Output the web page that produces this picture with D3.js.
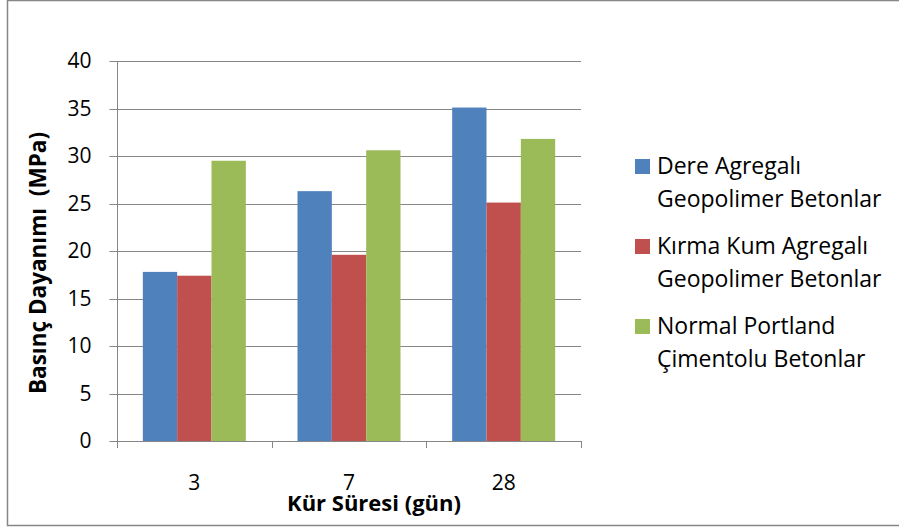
<!DOCTYPE html>
<html>
<head>
<meta charset="utf-8">
<script src="https://cdn.jsdelivr.net/npm/d3@7"></script>
<style>
  html, body { margin: 0; padding: 0; background: #fff; }
  svg { display: block; }
  text { font-family: "Open Sans", sans-serif; fill: #000; }
</style>
</head>
<body>
<svg id="chart" width="899" height="528"></svg>
<script>
const categories = ["3", "7", "28"];
const seriesNames = [
  ["Dere Agregalı", "Geopolimer Betonlar"],
  ["Kırma Kum Agregalı", "Geopolimer Betonlar"],
  ["Normal Portland", "Çimentolu Betonlar"]
];
const dereValues = [17.8, 26.3, 35.1];
const kirmaValues = [17.4, 19.6, 25.1];
const portlandValues = [29.5, 30.6, 31.8];
const yTicks = [0, 5, 10, 15, 20, 25, 30, 35, 40];
const seriesColors = ["#4F81BD", "#C0504D", "#9BBB59"];
const yTitle = "Basınç Dayanımı  (MPa)";
const xTitle = "Kür Süresi (gün)";

const seriesValues = [dereValues, kirmaValues, portlandValues];
const svg = d3.select("#chart");

// outer chart border
svg.append("rect")
  .attr("x", 7.5).attr("y", 0.5)
  .attr("width", 899).attr("height", 525)
  .attr("fill", "#fff").attr("stroke", "#868686").attr("stroke-width", 1.5);

const pLeft = 117, pRight = 581, pTop = 61, pBottom = 441;
const y = d3.scaleLinear().domain([0, 40]).range([pBottom, pTop]);
const x = d3.scaleBand().domain(categories).range([pLeft, pRight])
  .paddingInner(0.334).paddingOuter(0.167);
const xs = d3.scaleBand().domain(d3.range(seriesValues.length)).range([0, x.bandwidth()]).padding(0);

// gridlines
svg.append("g").selectAll("line").data(yTicks.filter(d => d > 0)).join("line")
  .attr("x1", pLeft).attr("x2", pRight)
  .attr("y1", d => Math.round(y(d)) + 0.5).attr("y2", d => Math.round(y(d)) + 0.5)
  .attr("stroke", "#868686").attr("stroke-width", 1);

// bars
const groups = svg.append("g").selectAll("g").data(categories).join("g")
  .attr("transform", c => `translate(${x(c)},0)`);
groups.selectAll("rect").data((c, i) => seriesValues.map((vals, s) => ({ s, v: vals[i] }))).join("rect")
  .attr("x", d => xs(d.s)).attr("width", xs.bandwidth())
  .attr("y", d => y(d.v)).attr("height", d => y(0) - y(d.v))
  .attr("fill", d => seriesColors[d.s]);

// y axis
const yAxis = svg.append("g").attr("transform", `translate(${pLeft + 0.5},0)`)
  .call(d3.axisLeft(y).tickValues(yTicks).tickSize(8).tickPadding(18));
yAxis.select(".domain").attr("stroke", "#868686").attr("d", `M0,${y(40)}V${y(0)}`);
yAxis.selectAll(".tick line").attr("stroke", "#868686");
yAxis.selectAll(".tick text").attr("font-size", 21).attr("font-family", "Open Sans").attr("fill", "#000");
yAxis.selectAll(".tick").attr("transform", d => `translate(0,${Math.round(y(d)) + 0.5})`);

// x axis line
const step = x.step();
const bounds = d3.range(categories.length + 1).map(i => x.range()[0] + i * step);
svg.append("line").attr("x1", pLeft).attr("x2", pRight)
  .attr("y1", pBottom + 0.5).attr("y2", pBottom + 0.5)
  .attr("stroke", "#868686").attr("stroke-width", 1);
svg.append("g").selectAll("line").data(bounds).join("line")
  .attr("x1", d => Math.round(d) + 0.5).attr("x2", d => Math.round(d) + 0.5)
  .attr("y1", pBottom).attr("y2", pBottom + 7)
  .attr("stroke", "#868686");
svg.append("g").selectAll("text").data(categories).join("text")
  .attr("x", c => x(c) + x.bandwidth() / 2).attr("y", 490)
  .attr("text-anchor", "middle").attr("font-size", 21).text(c => c);

// axis titles
svg.append("text").attr("x", 374).attr("y", 511)
  .attr("text-anchor", "middle").attr("font-size", 22).attr("font-weight", "bold")
  .text(xTitle);
svg.append("text")
  .attr("transform", "translate(46,263) rotate(-90)")
  .attr("text-anchor", "middle").attr("font-size", 22.5).attr("font-weight", "bold")
  .style("white-space", "pre")
  .text(yTitle);

// legend
const legend = svg.append("g").selectAll("g").data(seriesNames).join("g")
  .attr("transform", (d, i) => `translate(635,${159 + i * 80})`);
legend.append("rect").attr("width", 15).attr("height", 15)
  .attr("fill", (d, i) => seriesColors[i]);
legend.each(function (lines) {
  const g = d3.select(this);
  lines.forEach((t, j) => {
    g.append("text").attr("x", 22).attr("y", 15 + j * 33)
      .attr("font-size", 23).text(t);
  });
});
</script>
</body>
</html>
